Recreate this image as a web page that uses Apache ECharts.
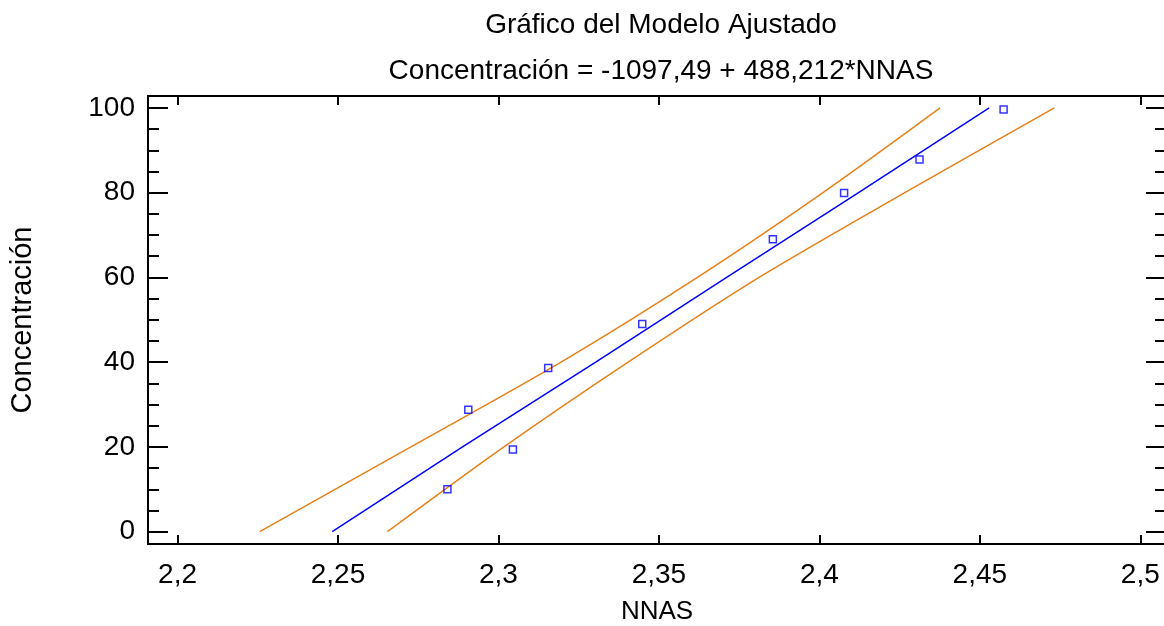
<!DOCTYPE html>
<html>
<head>
<meta charset="utf-8">
<script src="https://cdn.jsdelivr.net/npm/echarts@6/dist/echarts.min.js"></script>
<style>html,body{margin:0;padding:0;background:#fff}#c{width:1164px;height:626px}</style>
</head>
<body>
<div id="c"></div>
<script>
// Observed data points
var obsX = [2.2841, 2.2906, 2.3045, 2.3155, 2.3448, 2.3855, 2.4077, 2.4312, 2.4574];
var obsY = [10.0, 28.8, 19.4, 38.6, 49.0, 69.0, 79.9, 87.8, 99.6];
// Fitted line
var fitX = [2.2482, 2.2888, 2.3303, 2.3711, 2.4122, 2.4529];
var fitY = [0, 20, 40, 60, 80, 100];
// Upper limit
var upX = [2.2256, 2.2727, 2.3195, 2.3620, 2.4011, 2.4376];
var upY = [0, 20, 40, 60, 80, 100];
// Lower limit
var loX = [2.2654, 2.3017, 2.3404, 2.3812, 2.4266, 2.4732];
var loY = [0, 20, 40, 60, 80, 100];
// Tick values
var xTicks = [2.2, 2.25, 2.3, 2.35, 2.4, 2.45, 2.5];
var yTicks = [0, 20, 40, 60, 80, 100];
var yMinor = [5, 10, 15, 25, 30, 35, 45, 50, 55, 65, 70, 75, 85, 90, 95];

function pairs(xs, ys) { return xs.map(function (x, i) { return [x, ys[i]]; }); }
var FONT = 'Liberation Sans, Arial, sans-serif';
var FS = 28;
var X_MIN = 2.1908, X_MAX = 2.508, Y_MIN = -2.9, Y_MAX = 102.8;
function fmt(v) { return String(+v.toFixed(3)).replace('.', ','); }

var chart = echarts.init(document.getElementById('c'), null, { renderer: 'canvas' });
var axisLine = { show: true, onZero: false, lineStyle: { color: '#000', width: 2 } };
function xAx(pos, labels, name) {
  return {
    type: 'value', position: pos, min: X_MIN, max: X_MAX,
    axisLine: axisLine,
    axisTick: { show: true, inside: true, length: 9, customValues: xTicks, lineStyle: { color: '#000', width: 2 } },
    axisLabel: labels ? { show: true, customValues: xTicks, formatter: fmt, color: '#000', fontSize: FS, fontFamily: FONT, margin: 17 } : { show: false },
    splitLine: { show: false },
    name: name || '', nameLocation: 'middle', nameGap: 55,
    nameTextStyle: { color: '#000', fontSize: 26, fontFamily: FONT }
  };
}
function yAx(pos, vals, len, labels, name) {
  return {
    type: 'value', position: pos, min: Y_MIN, max: Y_MAX, offset: 0,
    axisLine: axisLine,
    axisTick: { show: true, inside: true, length: len, customValues: vals, lineStyle: { color: '#000', width: 2 } },
    axisLabel: labels ? { show: true, customValues: yTicks, formatter: function (v) { return String(v); }, color: '#000', fontSize: FS, fontFamily: FONT, margin: 13 } : { show: false },
    splitLine: { show: false },
    name: name || '', nameLocation: 'middle', nameGap: 111, nameRotate: 90,
    nameTextStyle: { color: '#000', fontSize: 29, fontFamily: FONT }
  };
}

chart.setOption({
  animation: false,
  backgroundColor: '#fff',
  title: [
    { text: 'Gráfico del Modelo Ajustado', left: 656, top: 6, textAlign: 'center',
      textStyle: { fontSize: FS, fontWeight: 'normal', color: '#000', fontFamily: FONT } },
    { text: 'Concentración = -1097,49 + 488,212*NNAS', left: 656, top: 52, textAlign: 'center',
      textStyle: { fontSize: FS, fontWeight: 'normal', color: '#000', fontFamily: FONT } }
  ],
  grid: { left: 148, right: -2, top: 96, bottom: 82, containLabel: false, outerBoundsMode: 'none' },
  xAxis: [xAx('bottom', true, 'NNAS'), xAx('top', false)],
  yAxis: [
    yAx('left', yTicks, 20, true, 'Concentración'),
    yAx('left', yMinor, 11, false),
    yAx('right', yTicks, 20, false),
    yAx('right', yMinor, 11, false)
  ],
  series: [
    { type: 'line', data: pairs(upX, upY), showSymbol: false, smooth: 0.3, lineStyle: { color: '#e8801a', width: 1.5 }, z: 2 },
    { type: 'line', data: pairs(loX, loY), showSymbol: false, smooth: 0.3, lineStyle: { color: '#e8801a', width: 1.5 }, z: 2 },
    { type: 'line', data: pairs(fitX, fitY), showSymbol: false, lineStyle: { color: '#0000ff', width: 1.5 }, z: 3 },
    { type: 'scatter', data: pairs(obsX, obsY), symbol: 'rect', symbolSize: 7,
      itemStyle: { color: 'rgba(255,255,255,0)', borderColor: '#0000ff', borderWidth: 1.5 }, z: 4 }
  ]
});
</script>
</body>
</html>
